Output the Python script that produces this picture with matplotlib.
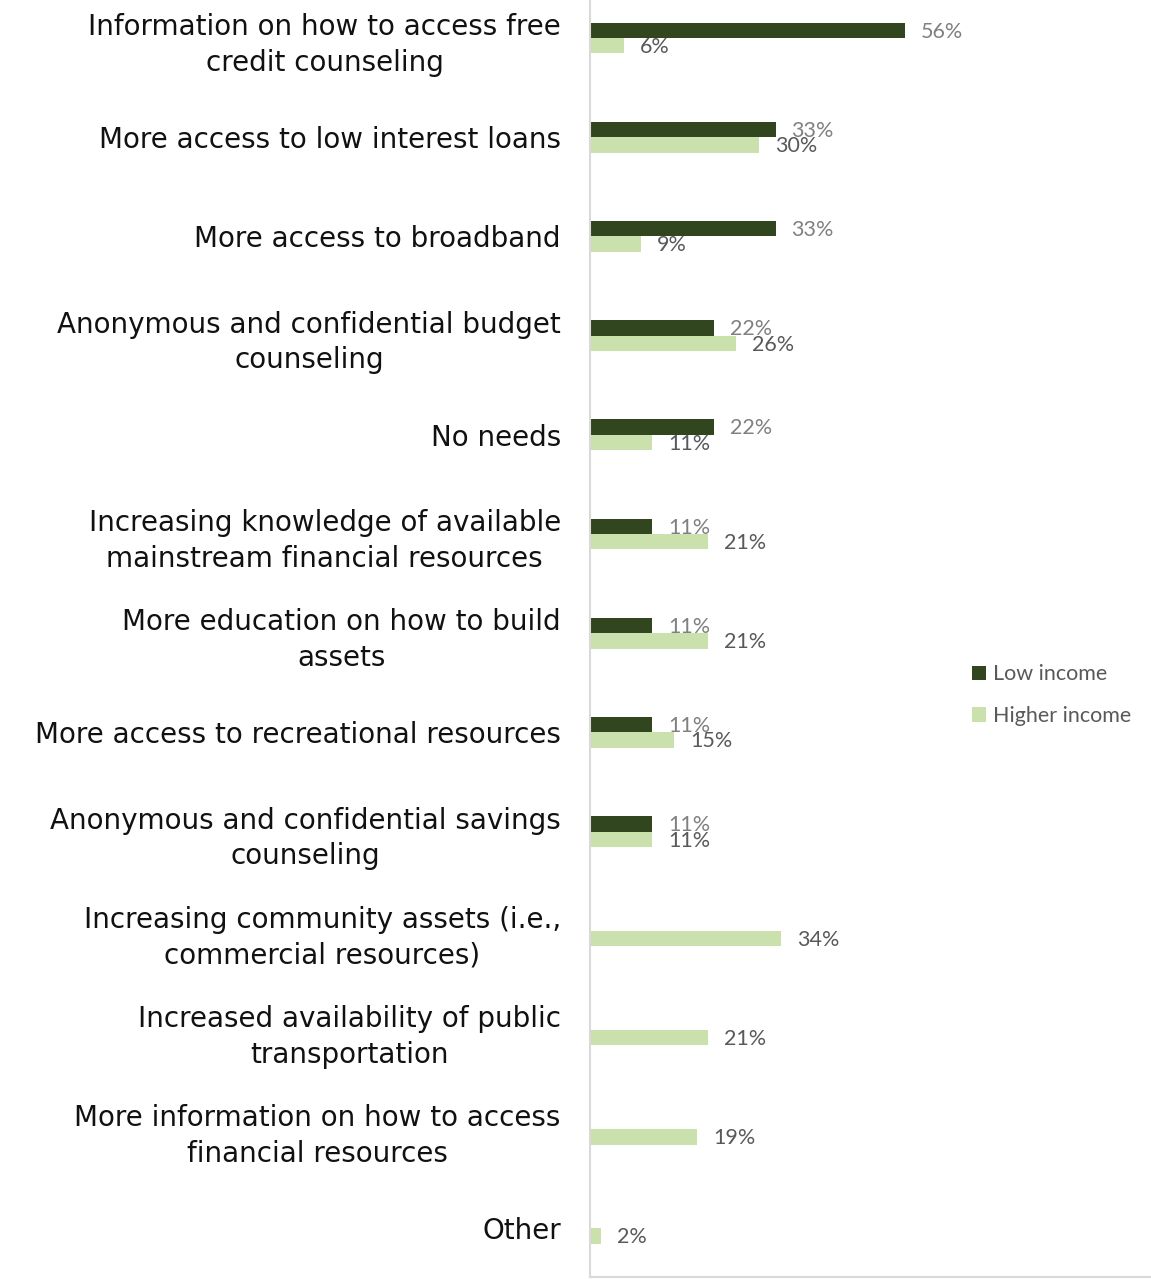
import matplotlib.pyplot as plt
import numpy as np

categories = [
    "Information on how to access free\ncredit counseling",
    "More access to low interest loans",
    "More access to broadband",
    "Anonymous and confidential budget\ncounseling",
    "No needs",
    "Increasing knowledge of available\nmainstream financial resources",
    "More education on how to build\nassets",
    "More access to recreational resources",
    "Anonymous and confidential savings\ncounseling",
    "Increasing community assets (i.e.,\ncommercial resources)",
    "Increased availability of public\ntransportation",
    "More information on how to access\nfinancial resources",
    "Other",
]
low_income = [56, 33, 33, 22, 22, 11, 11, 11, 11, None, None, None, None]
higher_income = [6, 30, 9, 26, 11, 21, 21, 15, 11, 34, 21, 19, 2]

dark = "#31461F"
light = "#CAE1AD"

fig = plt.figure(figsize=(11.51, 12.79), dpi=100)
ax = fig.add_axes([590 / 1151, 2 / 1279, 561 / 1151, 1277 / 1279])

y = np.arange(len(categories))
h = 0.155
for i, v in enumerate(low_income):
    if v is None:
        continue
    ax.barh(i - h / 2, v, height=h, color=dark, label="Low income" if i == 0 else None)
    ax.annotate(f"{v}%", (v, i - h / 2), xytext=(11.5, -1), textcoords="offset points",
                ha="left", va="center", color="#808080", fontsize=15.5, family="Lato")
for i, v in enumerate(higher_income):
    ax.barh(i + h / 2, v, height=h, color=light, label="Higher income" if i == 0 else None)
    ax.annotate(f"{v}%", (v, i + h / 2), xytext=(11.5, -1), textcoords="offset points",
                ha="left", va="center", color="#595959", fontsize=15.5, family="Lato")

ax.set_xlim(0, 561 / 5.625)
ax.set_ylim(12.49, -0.383)
ax.set_yticks(y)
ax.set_yticklabels(categories, fontsize=20, family="DejaVu Sans", ha="right",
                   multialignment="center", linespacing=1.35, color="#111111")
ax.tick_params(axis="y", length=0, pad=21)
ax.set_xticks([])
for s in ["top", "right"]:
    ax.spines[s].set_visible(False)
ax.spines["left"].set_color("#D9D9D9")
ax.spines["bottom"].set_color("#D9D9D9")
ax.spines["left"].set_linewidth(1.5)
ax.spines["bottom"].set_linewidth(1.5)

fig.legend(loc="upper left", bbox_to_anchor=(953 / 1151, 1 - 645 / 1279), frameon=False,
           prop={"family": "Lato", "size": 15.5}, labelcolor="#595959",
           handlelength=0.65, handleheight=0.65, handletextpad=0.3, labelspacing=1.0)

fig.savefig("out.png", dpi=100)
